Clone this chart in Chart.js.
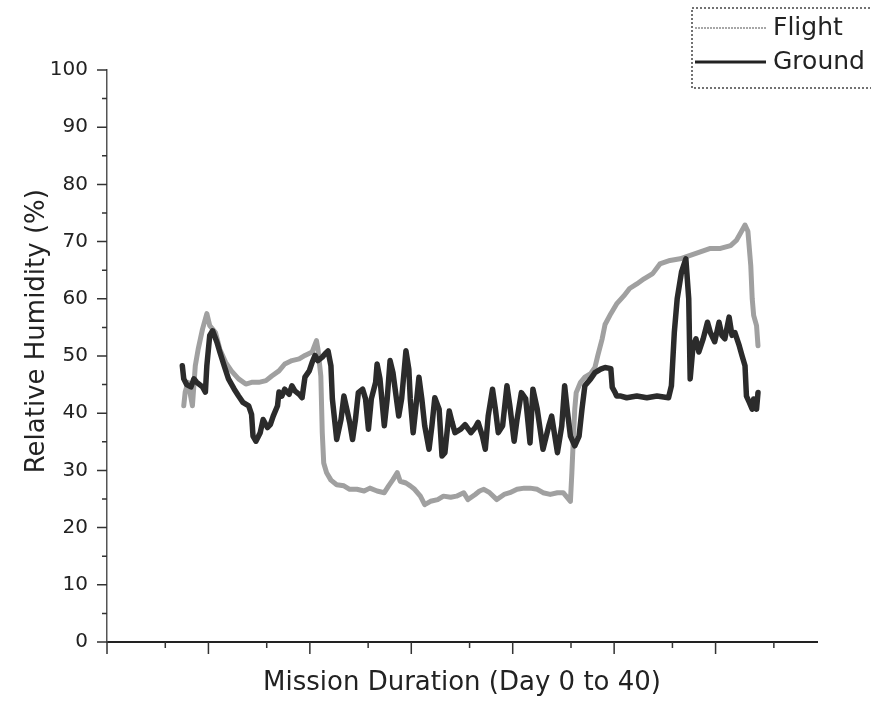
<!DOCTYPE html>
<html>
<head>
<meta charset="utf-8">
<title>Relative Humidity - Flight vs Ground</title>
<script src="https://cdn.jsdelivr.net/npm/chart.js@4.4.1/dist/chart.umd.min.js"></script>
<style>
  body { margin: 0; background: #fff; }
  #holder { width: 871px; height: 702px; }
</style>
</head>
<body>
<div id="holder"><canvas id="rh-chart" width="871" height="702"></canvas></div>
<script>
//Flight readings (day of mission, relative humidity %)
var flightDay = [
  0.1, 0.2, 0.4, 0.7, 0.9, 1.1, 1.4, 1.7, 1.9, 2.3,
  2.6, 3.0, 3.4, 3.9, 4.4, 4.8, 5.3, 5.8, 6.2, 6.7,
  7.1, 7.6, 8.1, 8.5, 9.0, 9.3, 9.4, 9.6, 9.7, 9.8,
  10.0, 10.3, 10.7, 11.2, 11.6, 12.1, 12.6, 13.0, 13.5, 14.0,
  14.3, 14.6, 14.9, 15.1, 15.5, 15.8, 16.1, 16.5, 16.8, 17.2,
  17.7, 18.1, 18.6, 19.0, 19.5, 19.8, 20.3, 20.6, 20.9, 21.3,
  21.8, 22.3, 22.7, 23.2, 23.7, 24.1, 24.6, 25.0, 25.5, 26.0,
  26.4, 26.9, 27.0, 27.1, 27.2, 27.3, 27.6, 27.9, 28.3, 28.6,
  28.8, 29.1, 29.3, 29.7, 30.1, 30.6, 31.0, 31.5, 32.0, 32.6,
  33.1, 33.8, 34.5, 35.2, 35.9, 36.6, 37.3, 38.0, 38.4, 38.8,
  39.0, 39.2, 39.4, 39.5, 39.6, 39.8, 39.9
];
var flightRH = [
  41.3, 43.7, 45.4, 41.3, 48.3, 51.2, 54.7, 57.4, 55.3, 54.1,
  51.2, 48.9, 47.4, 46.0, 45.1, 45.4, 45.4, 45.7, 46.5, 47.4,
  48.6, 49.2, 49.5, 50.1, 50.7, 52.7, 51.2, 46.5, 36.6, 31.3,
  29.6, 28.3, 27.5, 27.3, 26.7, 26.7, 26.4, 26.9, 26.4, 26.1,
  27.3, 28.4, 29.6, 28.1, 27.8, 27.3, 26.7, 25.5, 24.0, 24.6,
  24.9, 25.5, 25.3, 25.5, 26.1, 24.9, 25.8, 26.4, 26.7, 26.1,
  24.9, 25.8, 26.1, 26.7, 26.9, 26.9, 26.7, 26.1, 25.8, 26.1,
  26.1, 24.6, 29.6, 35.4, 40.7, 43.6, 45.4, 46.3, 46.9, 48.0,
  50.1, 53.0, 55.5, 57.4, 59.1, 60.5, 61.8, 62.6, 63.5, 64.4,
  66.1, 66.7, 67.0, 67.6, 68.2, 68.8, 68.8, 69.3, 70.2, 72.0,
  72.9, 71.8, 65.8, 60.0, 57.1, 55.3, 51.8
];

//Ground control readings (day of mission, relative humidity %)
var groundDay = [
  0.0, 0.1, 0.3, 0.6, 0.8, 1.0, 1.4, 1.6, 1.7, 1.9,
  2.1, 2.4, 2.6, 2.9, 3.2, 3.6, 3.9, 4.2, 4.6, 4.8,
  4.9, 5.1, 5.4, 5.6, 5.9, 6.1, 6.3, 6.6, 6.7, 6.9,
  7.1, 7.4, 7.6, 7.8, 8.1, 8.3, 8.5, 8.8, 9.0, 9.2,
  9.4, 9.7, 9.9, 10.1, 10.3, 10.4, 10.6, 10.7, 11.0, 11.2,
  11.4, 11.6, 11.8, 12.0, 12.2, 12.5, 12.7, 12.9, 13.1, 13.4,
  13.5, 13.7, 14.0, 14.2, 14.4, 14.6, 15.0, 15.2, 15.5, 15.7,
  15.8, 16.0, 16.2, 16.4, 16.6, 16.8, 17.1, 17.3, 17.5, 17.8,
  18.0, 18.2, 18.5, 18.7, 18.9, 19.3, 19.6, 20.0, 20.3, 20.5,
  20.8, 21.0, 21.2, 21.5, 21.7, 21.9, 22.2, 22.5, 22.7, 23.0,
  23.2, 23.5, 23.8, 24.1, 24.3, 24.6, 25.0, 25.4, 25.6, 26.0,
  26.3, 26.5, 26.7, 26.9, 27.2, 27.5, 27.7, 27.9, 28.3, 28.6,
  29.0, 29.3, 29.7, 29.8, 30.0, 30.1, 30.4, 30.8, 31.5, 32.2,
  32.9, 33.7, 33.9, 34.1, 34.3, 34.6, 34.9, 35.1, 35.2, 35.4,
  35.6, 35.8, 36.1, 36.4, 36.6, 36.9, 37.2, 37.4, 37.6, 37.9,
  38.1, 38.3, 38.6, 38.8, 39.0, 39.1, 39.3, 39.5, 39.6, 39.8,
  39.9
];
var groundRH = [
  48.3, 46.0, 45.0, 44.6, 46.0, 45.4, 44.6, 43.7, 48.3, 53.6,
  54.4, 52.4, 50.7, 48.3, 46.0, 44.2, 43.0, 41.9, 41.3, 39.8,
  36.0, 35.1, 36.6, 38.9, 37.5, 38.0, 39.5, 41.3, 43.7, 43.0,
  44.2, 43.3, 44.8, 43.9, 43.3, 42.7, 46.3, 47.4, 48.9, 50.1,
  49.2, 49.8, 50.4, 50.9, 48.3, 42.5, 37.8, 35.4, 38.9, 43.0,
  40.7, 38.4, 35.4, 38.9, 43.6, 44.2, 42.5, 37.2, 42.5, 45.4,
  48.6, 46.0, 37.8, 42.5, 49.2, 47.1, 39.5, 42.5, 50.9, 47.7,
  42.5, 36.6, 41.3, 46.3, 42.5, 37.8, 33.7, 37.8, 42.7, 40.7,
  32.5, 33.1, 40.4, 38.4, 36.6, 37.2, 38.0, 36.6, 37.5, 38.4,
  36.0, 33.7, 39.5, 44.2, 40.7, 36.6, 37.8, 44.8, 41.3, 35.1,
  38.9, 43.6, 42.5, 34.8, 44.2, 40.7, 33.7, 37.8, 39.5, 33.1,
  37.8, 44.8, 40.1, 36.0, 34.3, 36.0, 40.7, 44.8, 46.0, 47.1,
  47.7, 48.0, 47.8, 44.5, 43.6, 43.0, 43.0, 42.7, 43.0, 42.7,
  43.0, 42.7, 44.8, 54.1, 60.0, 64.7, 67.0, 60.0, 46.0, 51.8,
  53.0, 50.7, 53.0, 55.9, 54.1, 52.5, 55.9, 53.6, 53.0, 56.8,
  53.6, 54.1, 51.8, 50.0, 48.3, 43.0, 41.9, 40.7, 42.5, 40.7,
  43.6
];

//Axis tick positions (x has no labels in the original)
var xMajorTicks = [-5.22, 1.81, 8.84, 15.87, 22.90, 29.93, 36.96];
var xMinorTicks = [-1.18, 5.85, 12.88, 19.91, 26.94, 33.97, 41.0];
var yMajorTicks = [0, 10, 20, 30, 40, 50, 60, 70, 80, 90, 100];
var yMinorTicks = [5, 15, 25, 35, 45, 55, 65, 75, 85, 95];

var fontFamily = "'DejaVu Sans', 'Liberation Sans', Arial, sans-serif";

//Pair up day and value arrays for a linear x axis
var toPoints = function(days, values) {
  var pts = [];
  for (var i = 0; i < days.length; i++) {
    pts.push({x: days[i], y: values[i]});
  }
  return pts;
}

//Draw the outward tick marks (long majors, short minors)
var tickMarks = {
  id: 'tickMarks',
  afterDraw: function(chart) {
    var ctx = chart.ctx;
    var xs = chart.scales.x;
    var ys = chart.scales.y;
    var area = chart.chartArea;
    ctx.save();
    ctx.strokeStyle = '#333';
    ctx.lineWidth = 1.5;
    ctx.beginPath();
    for (var v of xMajorTicks) {
      var px = xs.getPixelForValue(v);
      ctx.moveTo(px, area.bottom);
      ctx.lineTo(px, area.bottom + 12);
    }
    for (var v of xMinorTicks) {
      var px = xs.getPixelForValue(v);
      ctx.moveTo(px, area.bottom);
      ctx.lineTo(px, area.bottom + 6);
    }
    for (var v of yMajorTicks) {
      var py = ys.getPixelForValue(v);
      ctx.moveTo(area.left, py);
      ctx.lineTo(area.left - 10, py);
    }
    for (var v of yMinorTicks) {
      var py = ys.getPixelForValue(v);
      ctx.moveTo(area.left, py);
      ctx.lineTo(area.left - 5, py);
    }
    ctx.stroke();
    ctx.restore();
  }
};

//Legend in a dotted box at the top right (runs off the edge like the original)
var boxLegend = {
  id: 'boxLegend',
  afterDraw: function(chart) {
    var ctx = chart.ctx;
    var sets = chart.data.datasets;
    ctx.save();
    ctx.setLineDash([2, 2]);
    ctx.strokeStyle = '#444';
    ctx.lineWidth = 1.5;
    ctx.strokeRect(692, 8, 200, 80);
    ctx.font = '25px ' + fontFamily;
    ctx.textBaseline = 'middle';
    ctx.fillStyle = '#222';
    var rows = [28, 62];
    for (var i = 0; i < sets.length; i++) {
      ctx.setLineDash(i === 0 ? [2, 1] : []);
      ctx.strokeStyle = i === 0 ? '#8a8a8a' : '#222';
      ctx.lineWidth = i === 0 ? 1.5 : 3;
      ctx.beginPath();
      ctx.moveTo(695, rows[i]);
      ctx.lineTo(766, rows[i]);
      ctx.stroke();
      ctx.fillText(sets[i].label, 773, rows[i]);
    }
    ctx.restore();
  }
};

var createChart = function() {
  var ctx = document.getElementById('rh-chart').getContext('2d');
  var myChart = new Chart(ctx, {
    type: 'line',
    data: {
      datasets: [{
        label: 'Flight',
        data: toPoints(flightDay, flightRH),
        borderColor: '#a0a0a0',
        borderWidth: 5,
        borderJoinStyle: 'round',
        borderCapStyle: 'round',
        pointRadius: 0,
        order: 1
      }, {
        label: 'Ground',
        data: toPoints(groundDay, groundRH),
        borderColor: '#2b2b2b',
        borderWidth: 5.5,
        borderJoinStyle: 'round',
        borderCapStyle: 'round',
        pointRadius: 0,
        order: 0
      }]
    },
    options: {
      responsive: false,
      devicePixelRatio: 1,
      animation: false,
      layout: { padding: { left: 0, right: 54, top: 70, bottom: 0 } },
      plugins: {
        legend: { display: false },
        tooltip: { enabled: false }
      },
      scales: {
        x: {
          type: 'linear',
          min: -5.22,
          max: 43.99,
          ticks: { display: false },
          grid: { drawOnChartArea: false, drawTicks: false },
          border: { color: '#222', width: 2, dash: [2, 1] },
          title: {
            display: true,
            text: 'Mission Duration (Day 0 to 40)',
            color: '#222',
            font: { family: fontFamily, size: 26 },
            padding: { top: 0, bottom: 3 }
          },
          afterFit: function(scale) { scale.height = 60; }
        },
        y: {
          min: 0,
          max: 100,
          ticks: {
            stepSize: 10,
            padding: 19,
            color: '#222',
            font: { family: fontFamily, size: 20 }
          },
          grid: { drawOnChartArea: false, drawTicks: false },
          border: { color: '#555', width: 1.5, dash: [3, 2] },
          title: {
            display: true,
            //leading spaces lift the label a little above the axis centre, as in the original
            text: '      Relative Humidity (%)',
            color: '#222',
            font: { family: fontFamily, size: 26 },
            padding: { top: 22, bottom: 0 }
          },
          afterFit: function(scale) { scale.width = 107; }
        }
      }
    },
    plugins: [tickMarks, boxLegend]
  });
}

createChart();
</script>
</body>
</html>
